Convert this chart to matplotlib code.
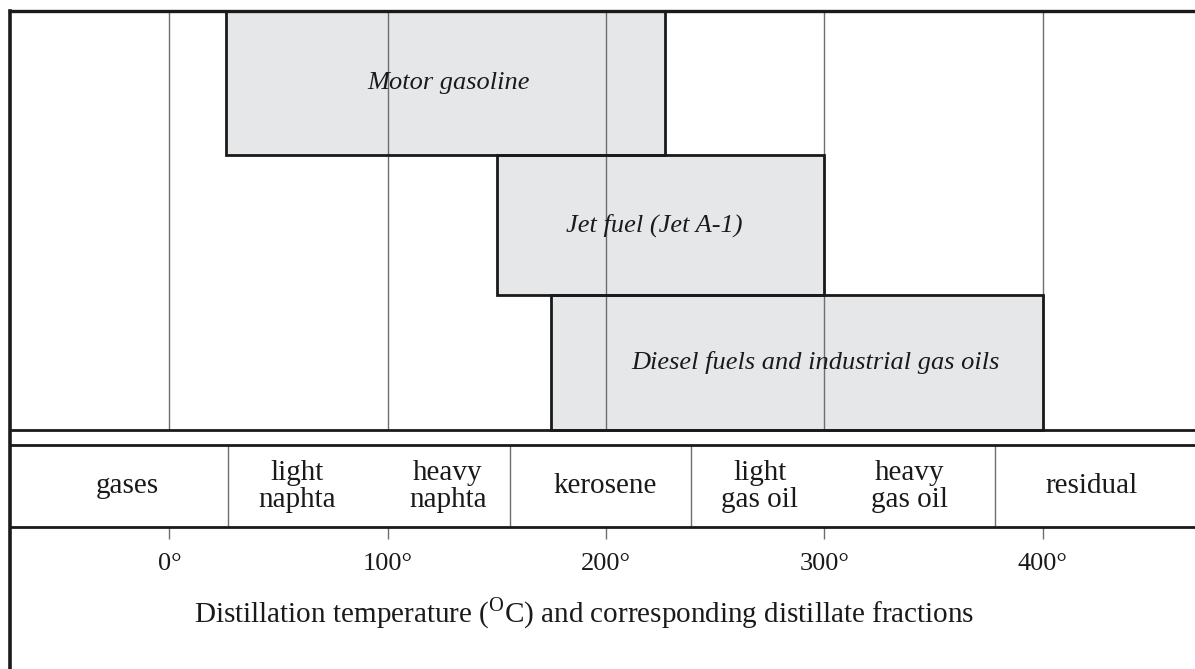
import matplotlib
matplotlib.use("Agg")
import matplotlib.pyplot as plt

# Fuel products and their boiling ranges (degrees C)
products = ["Motor gasoline", "Jet fuel (Jet A-1)", "Diesel fuels and industrial gas oils"]
range_start = [26, 150, 175]
range_end = [227, 300, 400]

# Distillate fractions and the temperatures separating them
fractions = ["gases", "light\nnaphta", "heavy\nnaphta", "kerosene",
             "light\ngas oil", "heavy\ngas oil", "residual"]
fraction_bounds = [27, 156, 239, 378]

tick_values = [0, 100, 200, 300, 400]
tick_labels = ["0°", "100°", "200°", "300°", "400°"]

# Layout (vertical positions in figure pixels from the top)
W, H = 1195, 669
row_top = [11, 155, 295]
row_bottom = [155, 295, 430]
product_label_x = [128, 222, 296]
fraction_label_x = [-19.5, 58.5, 127.5, 199.5, 270.5, 339, 422.5]
sep_line_y = 429.5
band_top, band_bottom = 445.3, 527.3

plt.rcParams["font.family"] = ["Liberation Serif", "DejaVu Serif"]
plt.rcParams["mathtext.fontset"] = "custom"
plt.rcParams["mathtext.rm"] = "Liberation Serif"

fig = plt.figure(figsize=(W / 100, H / 100), dpi=100)
ax = fig.add_axes([10 / W, 0, 1 - 10 / W, (H - 11) / H])
x0 = (10 - 169.4) / 2.183
x1 = (W - 169.4) / 2.183
ax.set_xlim(x0, x1)
ax.set_ylim(H, 11)
ax.set_xticks([])
ax.set_yticks([])
for side in ("right", "bottom"):
    ax.spines[side].set_visible(False)
ax.spines["left"].set_linewidth(2.6)
ax.spines["top"].set_linewidth(2.4)
ax.spines["left"].set_color("#1a1a1a")
ax.spines["top"].set_color("#1a1a1a")

fill = "#e6e7e8"
ink = "#1a1a1a"
grid = "#6e6e6e"

# Product ranges: grey fill, then grid lines, then the outlines on top
widths = [e - s for s, e in zip(range_start, range_end)]
centers = [(t + b) / 2 for t, b in zip(row_top, row_bottom)]
heights = [b - t for t, b in zip(row_top, row_bottom)]
ax.barh(centers, widths, height=heights, left=range_start, color=fill,
        edgecolor="none", zorder=1)
ax.vlines(tick_values, row_top[0], sep_line_y, color=grid, lw=1.0, zorder=2)
ax.barh(centers, widths, height=heights, left=range_start, fill=False,
        edgecolor=ink, linewidth=2.0, zorder=3)

for name, x, y in zip(products, product_label_x, centers):
    ax.text(x, y, name, style="italic", fontsize=19, ha="center",
            va="center", color=ink, zorder=4)

# Separator and fraction band
for y in (sep_line_y, band_top, band_bottom):
    ax.axhline(y, color=ink, lw=2.0, zorder=3)
ax.vlines(fraction_bounds, band_top, band_bottom, color=grid, lw=1.0, zorder=2)
for name, x in zip(fractions, fraction_label_x):
    ax.text(x, (band_top + band_bottom) / 2, name, fontsize=21,
            ha="center", va="center", linespacing=1.05, color=ink)

# Temperature ticks and labels
ax.vlines(tick_values, band_bottom, band_bottom + 12, color=grid, lw=1.0)
for v, lab in zip(tick_values, tick_labels):
    ax.text(v, 564, lab, fontsize=19, ha="center", va="center", color=ink)

ax.text(190, 613,
        r"Distillation temperature ($^{\mathrm{O}}$C) and corresponding distillate fractions",
        fontsize=21, ha="center", va="center", color=ink)

fig.savefig("out.png", dpi=100)
